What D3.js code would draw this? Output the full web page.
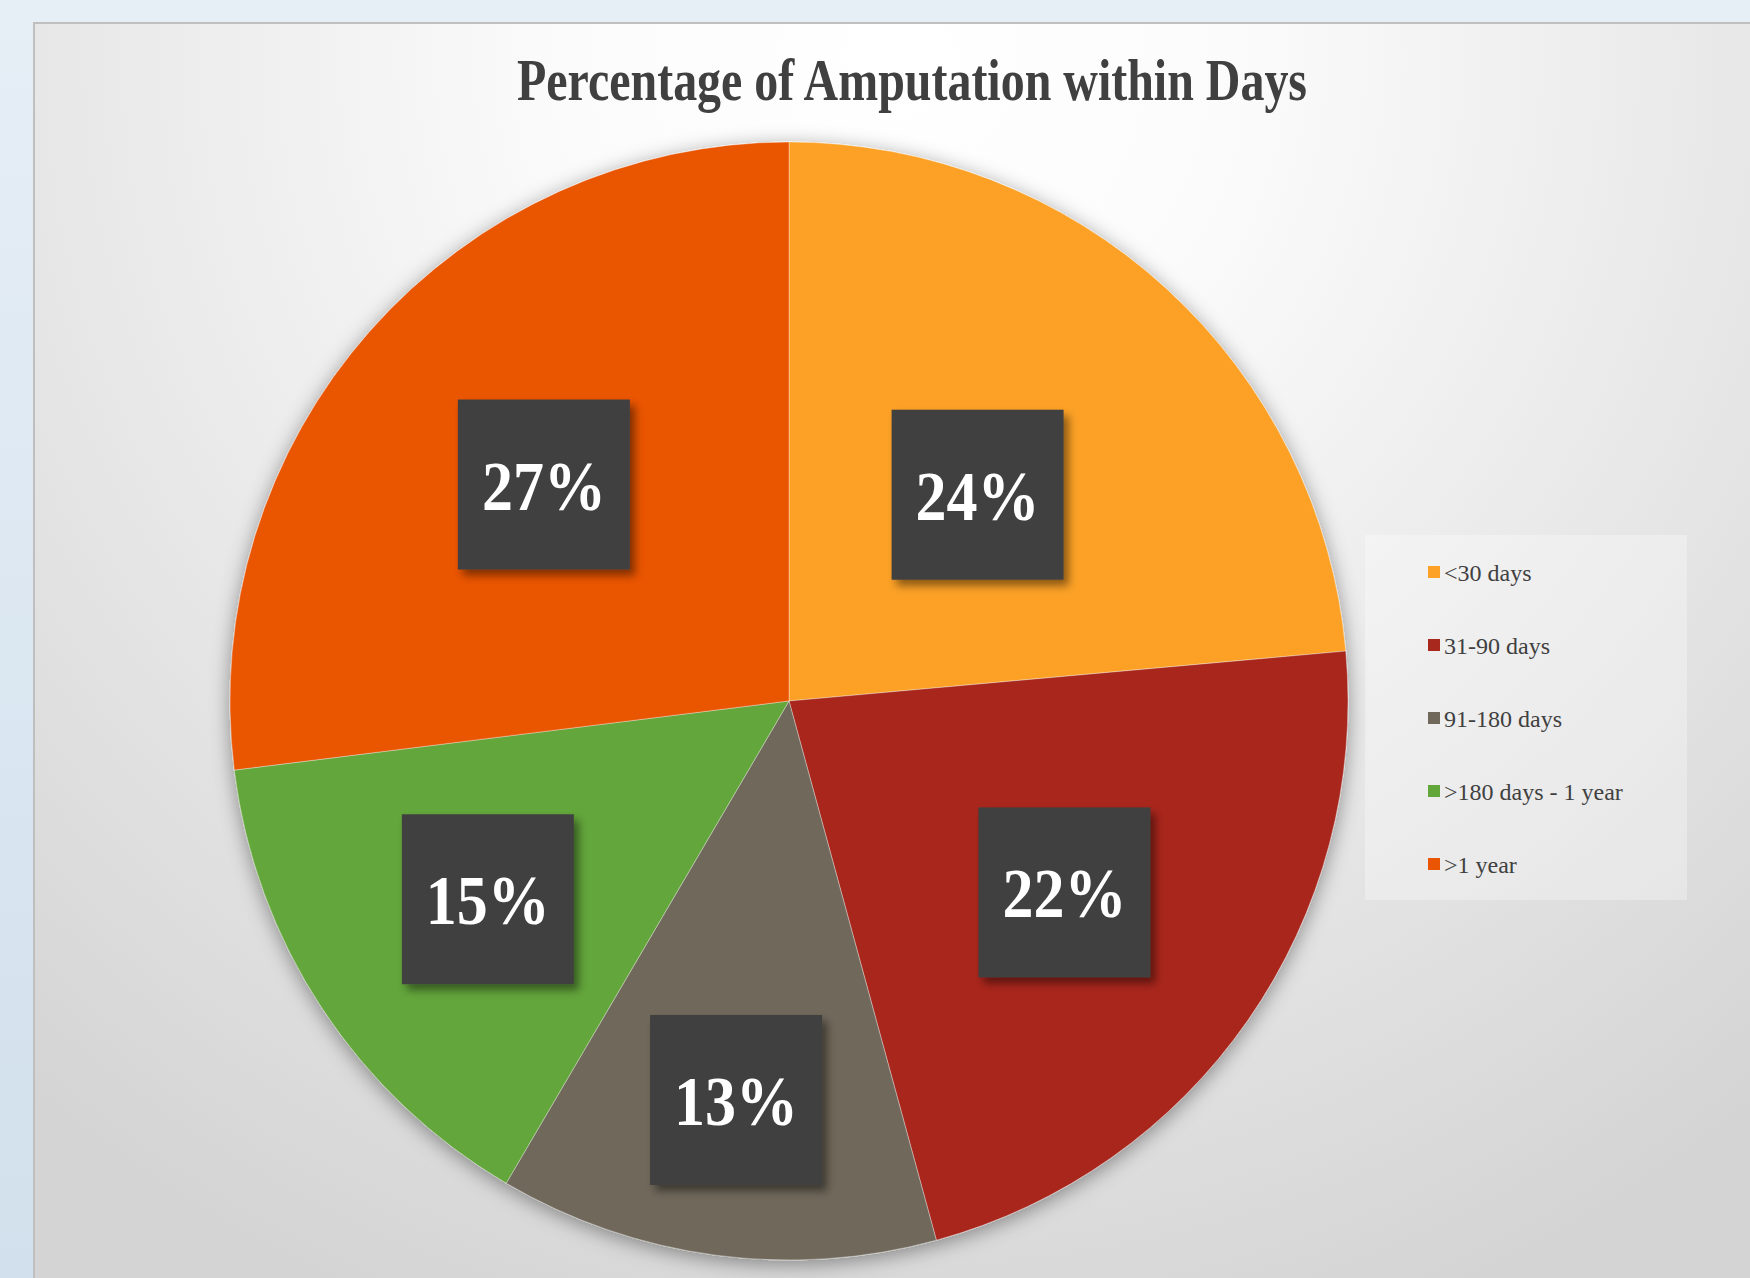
<!DOCTYPE html>
<html>
<head>
<meta charset="utf-8">
<script src="https://d3js.org/d3.v7.min.js"></script>
<style>
  body { margin: 0; background: #e3ecf5; }
  svg { display: block; }
</style>
</head>
<body>
<div id="chart"></div>
<script>
// data
var categories = ["<30 days", "31-90 days", "91-180 days", ">180 days - 1 year", ">1 year"];
var shares = [23.6, 22.2, 12.7, 14.6, 27.0];   // slice sizes as drawn
var labels = ["24%", "22%", "13%", "15%", "27%"]; // label texts as printed
var colors = ["#fca125", "#a9281e", "#70685a", "#63a63a", "#ea5504"];

var width = 1750, height = 1278;
var cx = 789, cy = 701, R = 559;
// how far out each label box sits (fraction of radius)
var labelDist = [0.50, 0.60, 0.72, 0.645, 0.585];

var svg = d3.select("#chart").append("svg")
    .attr("width", width).attr("height", height);

var defs = svg.append("defs");

var pageGrad = defs.append("linearGradient").attr("id", "page")
    .attr("x1", 0).attr("y1", 0).attr("x2", 0).attr("y2", 1);
pageGrad.append("stop").attr("offset", "0%").attr("stop-color", "#e6eef6");
pageGrad.append("stop").attr("offset", "100%").attr("stop-color", "#d1e0ec");

var bgGrad = defs.append("radialGradient").attr("id", "bg")
    .attr("gradientUnits", "userSpaceOnUse")
    .attr("cx", 900).attr("cy", 60).attr("r", 1350);
bgGrad.append("stop").attr("offset", "0%").attr("stop-color", "#ffffff");
bgGrad.append("stop").attr("offset", "25%").attr("stop-color", "#fbfbfb");
bgGrad.append("stop").attr("offset", "100%").attr("stop-color", "#d4d4d4");

var pieShadow = defs.append("filter").attr("id", "pieShadow")
    .attr("x", "-20%").attr("y", "-20%").attr("width", "140%").attr("height", "140%");
pieShadow.append("feDropShadow").attr("dx", 0).attr("dy", 4)
    .attr("stdDeviation", 10).attr("flood-color", "#000").attr("flood-opacity", 0.4);

var boxShadow = defs.append("filter").attr("id", "boxShadow")
    .attr("x", "-20%").attr("y", "-20%").attr("width", "150%").attr("height", "150%");
boxShadow.append("feDropShadow").attr("dx", 5).attr("dy", 6)
    .attr("stdDeviation", 4).attr("flood-color", "#000").attr("flood-opacity", 0.45);

// page + chart frame
svg.append("rect").attr("width", width).attr("height", height).attr("fill", "url(#page)");
svg.append("rect").attr("x", 34).attr("y", 23).attr("width", width).attr("height", height)
    .attr("fill", "url(#bg)").attr("stroke", "#bfbfbf").attr("stroke-width", 2);

// title
svg.append("text")
    .attr("x", 912).attr("y", 100)
    .attr("text-anchor", "middle")
    .attr("textLength", 790).attr("lengthAdjust", "spacingAndGlyphs")
    .style("font-family", "'Liberation Serif', 'Times New Roman', serif")
    .style("font-weight", "bold").style("font-size", "60px")
    .style("fill", "#404040")
    .text("Percentage of Amputation within Days");

var data = categories.map(function(c, i) {
  return { cat: c, v: shares[i], label: labels[i], color: colors[i], i: i };
});

var pie = d3.pie().sort(null).value(function(d) { return d.v; });
var arcs = pie(data);
var arc = d3.arc().innerRadius(0).outerRadius(R);

var g = svg.append("g").attr("transform", "translate(" + cx + "," + cy + ")");

g.append("g").attr("filter", "url(#pieShadow)")
  .selectAll("path").data(arcs).enter().append("path")
    .attr("d", arc)
    .attr("fill", function(d) { return d.data.color; })
    .attr("stroke", "rgba(255,255,255,0.35)")
    .attr("stroke-width", 1);

// data labels
var bw = 172, bh = 170;
var lab = g.selectAll(".lab").data(arcs).enter().append("g")
    .attr("class", "lab")
    .attr("transform", function(d) {
      var r = R * labelDist[d.data.i];
      var c = d3.arc().innerRadius(r).outerRadius(r).centroid(d);
      return "translate(" + c[0] + "," + c[1] + ")";
    });

lab.append("rect")
    .attr("x", -bw / 2).attr("y", -bh / 2)
    .attr("width", bw).attr("height", bh)
    .attr("fill", "#404040")
    .attr("filter", "url(#boxShadow)");

lab.append("text")
    .attr("y", 25)
    .attr("text-anchor", "middle")
    .attr("textLength", 124).attr("lengthAdjust", "spacingAndGlyphs")
    .style("font-family", "'Liberation Serif', 'Times New Roman', serif")
    .style("font-weight", "bold").style("font-size", "69px")
    .style("fill", "#ffffff")
    .text(function(d) { return d.data.label; });

// legend
var legend = svg.append("g");
legend.append("rect")
    .attr("x", 1365).attr("y", 535).attr("width", 322).attr("height", 365)
    .attr("fill", "#ffffff").attr("fill-opacity", 0.3);

var ly = d3.scalePoint().domain(categories).range([572, 864]);

var item = legend.selectAll(".item").data(data).enter().append("g")
    .attr("class", "item")
    .attr("transform", function(d) { return "translate(1428," + ly(d.cat) + ")"; });

item.append("rect")
    .attr("x", 0).attr("y", -6).attr("width", 12).attr("height", 12)
    .attr("fill", function(d) { return d.color; });

item.append("text")
    .attr("x", 16).attr("y", 9)
    .style("font-family", "'Liberation Serif', 'Times New Roman', serif")
    .style("font-size", "24px")
    .style("fill", "#404040")
    .text(function(d) { return d.cat; });
</script>
</body>
</html>
